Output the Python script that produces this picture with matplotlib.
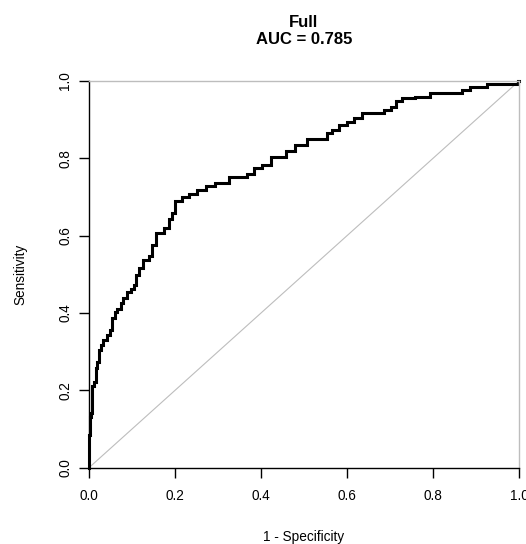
import numpy as np
import matplotlib
matplotlib.use('Agg')
import matplotlib.pyplot as plt

plt.rcParams['font.family'] = ['Liberation Sans', 'DejaVu Sans']

# ROC curve (step vertices: at fpr, curve rises to tpr)
fpr = [0.000, 0.000, 0.002, 0.005, 0.008, 0.012, 0.016, 0.019, 0.023, 0.029,
       0.033, 0.043, 0.049, 0.054, 0.060, 0.066, 0.075, 0.080, 0.088, 0.097,
       0.105, 0.109, 0.116, 0.126, 0.140, 0.147, 0.156, 0.175, 0.186, 0.193,
       0.200, 0.217, 0.233, 0.252, 0.273, 0.294, 0.326, 0.368, 0.384, 0.403,
       0.424, 0.457, 0.480, 0.508, 0.554, 0.564, 0.582, 0.599, 0.617, 0.634,
       0.687, 0.703, 0.715, 0.727, 0.757, 0.792, 0.867, 0.885, 0.925, 0.997,
       1.000]
tpr = [0.000, 0.084, 0.132, 0.141, 0.210, 0.222, 0.258, 0.274, 0.304, 0.317,
       0.330, 0.343, 0.356, 0.387, 0.403, 0.410, 0.425, 0.438, 0.455, 0.462,
       0.472, 0.498, 0.516, 0.537, 0.547, 0.575, 0.606, 0.620, 0.643, 0.658,
       0.690, 0.700, 0.707, 0.718, 0.728, 0.736, 0.751, 0.760, 0.775, 0.782,
       0.803, 0.818, 0.834, 0.850, 0.865, 0.873, 0.886, 0.894, 0.904, 0.916,
       0.925, 0.932, 0.948, 0.956, 0.958, 0.969, 0.976, 0.984, 0.992, 1.000,
       1.000]
ticks = [0.0, 0.2, 0.4, 0.6, 0.8, 1.0]
tick_labels = ['0.0', '0.2', '0.4', '0.6', '0.8', '1.0']
title = 'Full\nAUC = 0.785'

fig = plt.figure(figsize=(5.26, 5.44), dpi=100)
ax = fig.add_axes([89/526, 1 - 467.7/544, 430/526, (467.7 - 81)/544])

ax.plot([0, 1], [0, 1], color='#bdbdbd', lw=0.8)
ax.plot(fpr, tpr, color='black', lw=2.2, drawstyle='steps-post',
        solid_joinstyle='miter', clip_on=False)

ax.set_xlim(0, 1)
ax.set_ylim(0, 1)
ax.set_xticks(ticks)
ax.set_xticklabels(tick_labels)
ax.set_yticks(ticks)
ax.set_yticklabels(tick_labels, rotation=90, va='center')
ax.tick_params(direction='out', length=7, width=1, labelsize=9.8,
               colors='black', pad=8)
ax.tick_params(axis='y', pad=5)

for s in ['left', 'bottom']:
    ax.spines[s].set_color('black')
    ax.spines[s].set_linewidth(1)
for s in ['top', 'right']:
    ax.spines[s].set_color('#bdbdbd')
    ax.spines[s].set_linewidth(1)

ax.set_xlabel('1 - Specificity', fontsize=9.8, labelpad=20)
ax.set_ylabel('Sensitivity', fontsize=9.8, labelpad=22)
ax.set_title(title, fontsize=12, fontweight='bold', pad=27, linespacing=1.15)

fig.savefig('out.png', dpi=100)
